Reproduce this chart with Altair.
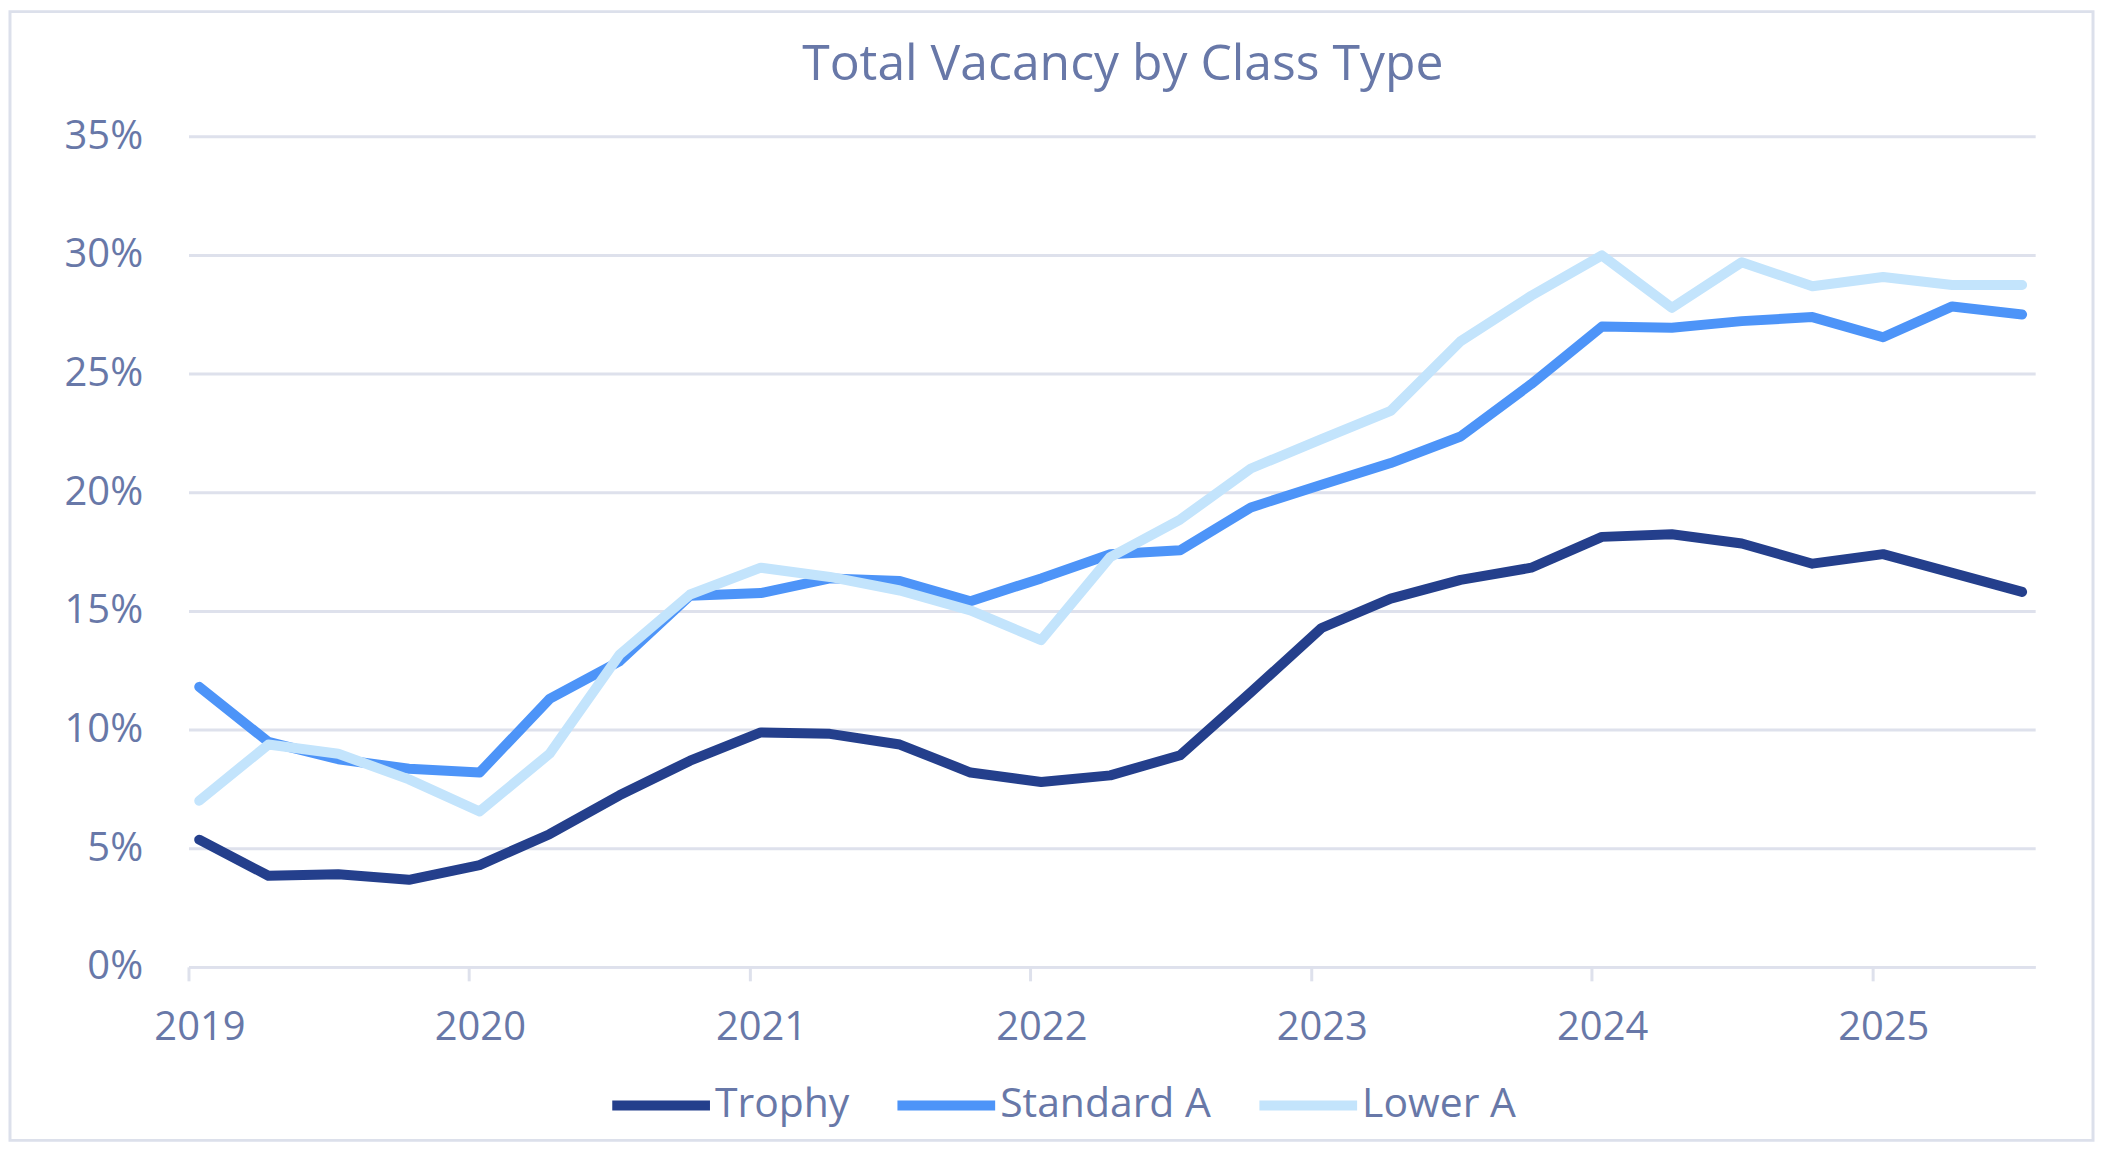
import altair as alt
import pandas as pd

# ---- data ----
series_names = ["Trophy", "Standard A", "Lower A"]
series_colors = ["#243F8C", "#4D94F8", "#C3E4FC"]

quarter_dates = [f"{y}-{m:02d}-15" for y in range(2019, 2026) for m in (1, 4, 7, 10)][:27]

trophy = [5.36, 3.84, 3.90, 3.67, 4.29, 5.59, 7.23, 8.69, 9.88, 9.82, 9.37, 8.19, 7.79, 8.07,
          8.92, 11.57, 14.28, 15.52, 16.31, 16.82, 18.12, 18.23, 17.84, 16.99, 17.39, 16.60, 15.80]
standard_a = [11.80, 9.48, 8.75, 8.35, 8.19, 11.29, 12.87, 15.64, 15.75, 16.37, 16.26, 15.41, 16.37, 17.39,
              17.56, 19.36, 20.32, 21.23, 22.35, 24.56, 26.98, 26.93, 27.21, 27.38, 26.53, 27.83, 27.49]
lower_a = [7.00, 9.37, 8.98, 7.90, 6.55, 8.98, 13.15, 15.69, 16.82, 16.43, 15.86, 15.02, 13.77, 17.27,
           18.85, 21.00, 22.24, 23.43, 26.36, 28.28, 29.98, 27.77, 29.69, 28.68, 29.07, 28.73, 28.73]

year_ticks = list(range(2019, 2026))
y_ticks = [0, 5, 10, 15, 20, 25, 30, 35]

rows = []
for name, vals in zip(series_names, [trophy, standard_a, lower_a]):
    for d, v in zip(quarter_dates, vals):
        rows.append({"date": d, "vacancy": v, "series": name})
df = pd.DataFrame(rows)

TEXT = "#6878A8"
GRID = "#DEE1EC"
FONT = "Open Sans"

x_enc = alt.X(
    "date:T",
    scale=alt.Scale(
        type="utc",
        domain=[alt.DateTime(year=2019, month=1, date=1, utc=True),
                alt.DateTime(year=2025, month=8, date=1, utc=True)],
    ),
    axis=alt.Axis(
        title=None,
        values=[alt.DateTime(year=y, month=1, date=1, utc=True) for y in year_ticks],
        format="%Y",
        grid=False,
        domain=True,
        domainColor=GRID,
        domainWidth=3,
        ticks=True,
        tickColor=GRID,
        tickWidth=3,
        tickSize=14,
        labelFont=FONT,
        labelFontSize=40,
        labelColor=TEXT,
        labelPadding=27,
        labelOffset=11,
        labelFlush=False,
    ),
)

y_enc = alt.Y(
    "vacancy:Q",
    scale=alt.Scale(domain=[0, 35], nice=False),
    axis=alt.Axis(
        title=None,
        values=y_ticks,
        labelExpr="datum.value + '%'",
        grid=True,
        gridColor=GRID,
        gridWidth=3,
        domain=False,
        ticks=False,
        labelFont=FONT,
        labelFontSize=40,
        labelColor=TEXT,
        labelPadding=46,
    ),
)

lines = alt.Chart(df).mark_line(strokeWidth=10, strokeCap="round", strokeJoin="round").encode(
    x=x_enc,
    y=y_enc,
    color=alt.Color(
        "series:N",
        sort=series_names,
        scale=alt.Scale(domain=series_names, range=series_colors),
        legend=alt.Legend(
            title=None,
            orient="none",
            legendX=420,
            legendY=918,
            direction="horizontal",
            symbolType="stroke",
            symbolSize=9604,
            symbolStrokeWidth=10,
            labelFont=FONT,
            labelFontSize=41,
            labelColor=TEXT,
            labelOffset=0,
            columnPadding=28,
            labelLimit=500,
            padding=0,
        ),
    ),
)

frame = alt.Chart(alt.Data(values=[{"a": 1}])).mark_rect(
    filled=False, stroke="#DCE0EB", strokeWidth=3
).encode(
    x=alt.value(-179), x2=alt.value(1910), y=alt.value(-125), y2=alt.value(1007)
)

chart = alt.layer(frame, lines).properties(
    width=1852,
    height=833,
    background="white",
    title=alt.TitleParams(
        "Total Vacancy by Class Type",
        font=FONT,
        fontSize=50,
        fontWeight="normal",
        color=TEXT,
        anchor="middle",
        frame="group",
        offset=-80,
        dx=11,
    ),
    autosize=alt.AutoSizeParams(type="none"),
    padding={"left": 181, "top": 127, "right": 60, "bottom": 177},
).configure_view(strokeWidth=0, stroke="transparent")

chart.save("out.html", embed_options={"renderer": "svg", "actions": False})
